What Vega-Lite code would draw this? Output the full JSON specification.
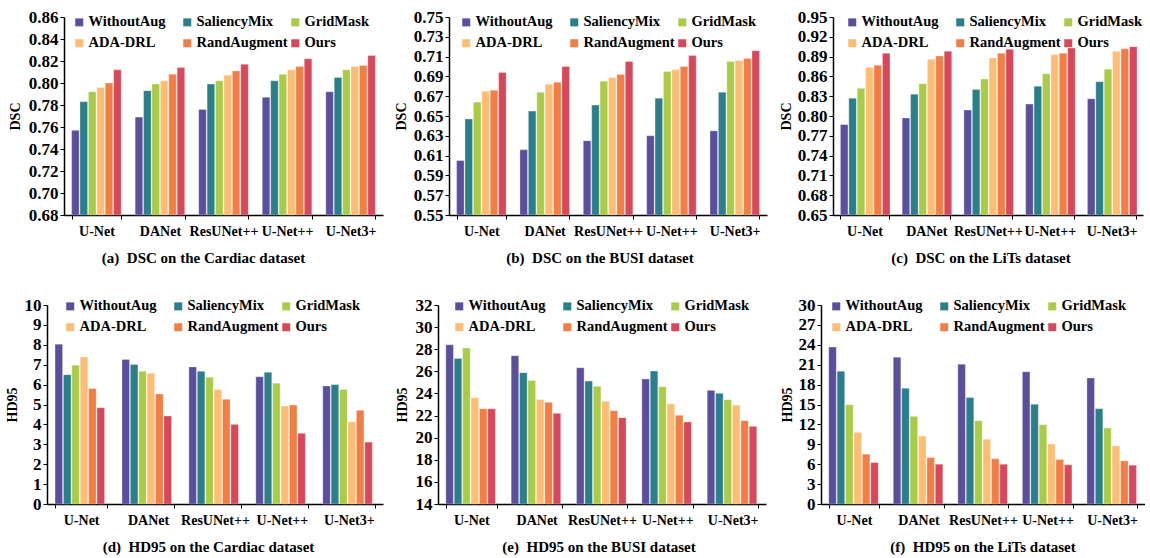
{
  "$schema": "https://vega.github.io/schema/vega-lite/v6.json",
  "padding": {"left": 5, "top": 8, "right": 0, "bottom": 0},
  "background": "white",
  "datasets": {
    "a": [
      {"model":"U-Net","method":"WithoutAug","value":0.757},{"model":"U-Net","method":"SaliencyMix","value":0.783},{"model":"U-Net","method":"GridMask","value":0.792},{"model":"U-Net","method":"ADA-DRL","value":0.796},{"model":"U-Net","method":"RandAugment","value":0.800},{"model":"U-Net","method":"Ours","value":0.812},
      {"model":"DANet","method":"WithoutAug","value":0.769},{"model":"DANet","method":"SaliencyMix","value":0.793},{"model":"DANet","method":"GridMask","value":0.799},{"model":"DANet","method":"ADA-DRL","value":0.802},{"model":"DANet","method":"RandAugment","value":0.808},{"model":"DANet","method":"Ours","value":0.814},
      {"model":"ResUNet++","method":"WithoutAug","value":0.776},{"model":"ResUNet++","method":"SaliencyMix","value":0.799},{"model":"ResUNet++","method":"GridMask","value":0.802},{"model":"ResUNet++","method":"ADA-DRL","value":0.807},{"model":"ResUNet++","method":"RandAugment","value":0.811},{"model":"ResUNet++","method":"Ours","value":0.817},
      {"model":"U-Net++","method":"WithoutAug","value":0.787},{"model":"U-Net++","method":"SaliencyMix","value":0.802},{"model":"U-Net++","method":"GridMask","value":0.808},{"model":"U-Net++","method":"ADA-DRL","value":0.812},{"model":"U-Net++","method":"RandAugment","value":0.815},{"model":"U-Net++","method":"Ours","value":0.822},
      {"model":"U-Net3+","method":"WithoutAug","value":0.792},{"model":"U-Net3+","method":"SaliencyMix","value":0.805},{"model":"U-Net3+","method":"GridMask","value":0.812},{"model":"U-Net3+","method":"ADA-DRL","value":0.815},{"model":"U-Net3+","method":"RandAugment","value":0.816},{"model":"U-Net3+","method":"Ours","value":0.825}
    ],
    "b": [
      {"model":"U-Net","method":"WithoutAug","value":0.605},{"model":"U-Net","method":"SaliencyMix","value":0.647},{"model":"U-Net","method":"GridMask","value":0.664},{"model":"U-Net","method":"ADA-DRL","value":0.675},{"model":"U-Net","method":"RandAugment","value":0.676},{"model":"U-Net","method":"Ours","value":0.694},
      {"model":"DANet","method":"WithoutAug","value":0.616},{"model":"DANet","method":"SaliencyMix","value":0.655},{"model":"DANet","method":"GridMask","value":0.674},{"model":"DANet","method":"ADA-DRL","value":0.682},{"model":"DANet","method":"RandAugment","value":0.684},{"model":"DANet","method":"Ours","value":0.700},
      {"model":"ResUNet++","method":"WithoutAug","value":0.625},{"model":"ResUNet++","method":"SaliencyMix","value":0.661},{"model":"ResUNet++","method":"GridMask","value":0.685},{"model":"ResUNet++","method":"ADA-DRL","value":0.689},{"model":"ResUNet++","method":"RandAugment","value":0.692},{"model":"ResUNet++","method":"Ours","value":0.705},
      {"model":"U-Net++","method":"WithoutAug","value":0.630},{"model":"U-Net++","method":"SaliencyMix","value":0.668},{"model":"U-Net++","method":"GridMask","value":0.695},{"model":"U-Net++","method":"ADA-DRL","value":0.697},{"model":"U-Net++","method":"RandAugment","value":0.700},{"model":"U-Net++","method":"Ours","value":0.711},
      {"model":"U-Net3+","method":"WithoutAug","value":0.635},{"model":"U-Net3+","method":"SaliencyMix","value":0.674},{"model":"U-Net3+","method":"GridMask","value":0.705},{"model":"U-Net3+","method":"ADA-DRL","value":0.706},{"model":"U-Net3+","method":"RandAugment","value":0.708},{"model":"U-Net3+","method":"Ours","value":0.716}
    ],
    "c": [
      {"model":"U-Net","method":"WithoutAug","value":0.787},{"model":"U-Net","method":"SaliencyMix","value":0.827},{"model":"U-Net","method":"GridMask","value":0.842},{"model":"U-Net","method":"ADA-DRL","value":0.874},{"model":"U-Net","method":"RandAugment","value":0.877},{"model":"U-Net","method":"Ours","value":0.895},
      {"model":"DANet","method":"WithoutAug","value":0.797},{"model":"DANet","method":"SaliencyMix","value":0.833},{"model":"DANet","method":"GridMask","value":0.849},{"model":"DANet","method":"ADA-DRL","value":0.886},{"model":"DANet","method":"RandAugment","value":0.891},{"model":"DANet","method":"Ours","value":0.898},
      {"model":"ResUNet++","method":"WithoutAug","value":0.809},{"model":"ResUNet++","method":"SaliencyMix","value":0.840},{"model":"ResUNet++","method":"GridMask","value":0.856},{"model":"ResUNet++","method":"ADA-DRL","value":0.888},{"model":"ResUNet++","method":"RandAugment","value":0.895},{"model":"ResUNet++","method":"Ours","value":0.901},
      {"model":"U-Net++","method":"WithoutAug","value":0.818},{"model":"U-Net++","method":"SaliencyMix","value":0.845},{"model":"U-Net++","method":"GridMask","value":0.864},{"model":"U-Net++","method":"ADA-DRL","value":0.893},{"model":"U-Net++","method":"RandAugment","value":0.895},{"model":"U-Net++","method":"Ours","value":0.903},
      {"model":"U-Net3+","method":"WithoutAug","value":0.826},{"model":"U-Net3+","method":"SaliencyMix","value":0.852},{"model":"U-Net3+","method":"GridMask","value":0.871},{"model":"U-Net3+","method":"ADA-DRL","value":0.898},{"model":"U-Net3+","method":"RandAugment","value":0.902},{"model":"U-Net3+","method":"Ours","value":0.905}
    ],
    "d": [
      {"model":"U-Net","method":"WithoutAug","value":8.03},{"model":"U-Net","method":"SaliencyMix","value":6.50},{"model":"U-Net","method":"GridMask","value":6.97},{"model":"U-Net","method":"ADA-DRL","value":7.39},{"model":"U-Net","method":"RandAugment","value":5.80},{"model":"U-Net","method":"Ours","value":4.84},
      {"model":"DANet","method":"WithoutAug","value":7.26},{"model":"DANet","method":"SaliencyMix","value":7.01},{"model":"DANet","method":"GridMask","value":6.67},{"model":"DANet","method":"ADA-DRL","value":6.57},{"model":"DANet","method":"RandAugment","value":5.53},{"model":"DANet","method":"Ours","value":4.42},
      {"model":"ResUNet++","method":"WithoutAug","value":6.89},{"model":"ResUNet++","method":"SaliencyMix","value":6.67},{"model":"ResUNet++","method":"GridMask","value":6.37},{"model":"ResUNet++","method":"ADA-DRL","value":5.76},{"model":"ResUNet++","method":"RandAugment","value":5.26},{"model":"ResUNet++","method":"Ours","value":4.00},
      {"model":"U-Net++","method":"WithoutAug","value":6.40},{"model":"U-Net++","method":"SaliencyMix","value":6.62},{"model":"U-Net++","method":"GridMask","value":6.07},{"model":"U-Net++","method":"ADA-DRL","value":4.92},{"model":"U-Net++","method":"RandAugment","value":4.97},{"model":"U-Net++","method":"Ours","value":3.55},
      {"model":"U-Net3+","method":"WithoutAug","value":5.93},{"model":"U-Net3+","method":"SaliencyMix","value":6.00},{"model":"U-Net3+","method":"GridMask","value":5.76},{"model":"U-Net3+","method":"ADA-DRL","value":4.12},{"model":"U-Net3+","method":"RandAugment","value":4.71},{"model":"U-Net3+","method":"Ours","value":3.11}
    ],
    "e": [
      {"model":"U-Net","method":"WithoutAug","value":28.41},{"model":"U-Net","method":"SaliencyMix","value":27.17},{"model":"U-Net","method":"GridMask","value":28.11},{"model":"U-Net","method":"ADA-DRL","value":23.62},{"model":"U-Net","method":"RandAugment","value":22.62},{"model":"U-Net","method":"Ours","value":22.62},
      {"model":"DANet","method":"WithoutAug","value":27.42},{"model":"DANet","method":"SaliencyMix","value":25.88},{"model":"DANet","method":"GridMask","value":25.18},{"model":"DANet","method":"ADA-DRL","value":23.44},{"model":"DANet","method":"RandAugment","value":23.20},{"model":"DANet","method":"Ours","value":22.20},
      {"model":"ResUNet++","method":"WithoutAug","value":26.33},{"model":"ResUNet++","method":"SaliencyMix","value":25.12},{"model":"ResUNet++","method":"GridMask","value":24.64},{"model":"ResUNet++","method":"ADA-DRL","value":23.29},{"model":"ResUNet++","method":"RandAugment","value":22.44},{"model":"ResUNet++","method":"Ours","value":21.81},
      {"model":"U-Net++","method":"WithoutAug","value":25.31},{"model":"U-Net++","method":"SaliencyMix","value":26.03},{"model":"U-Net++","method":"GridMask","value":24.61},{"model":"U-Net++","method":"ADA-DRL","value":23.07},{"model":"U-Net++","method":"RandAugment","value":22.02},{"model":"U-Net++","method":"Ours","value":21.42},
      {"model":"U-Net3+","method":"WithoutAug","value":24.28},{"model":"U-Net3+","method":"SaliencyMix","value":24.01},{"model":"U-Net3+","method":"GridMask","value":23.44},{"model":"U-Net3+","method":"ADA-DRL","value":22.95},{"model":"U-Net3+","method":"RandAugment","value":21.54},{"model":"U-Net3+","method":"Ours","value":21.02}
    ],
    "f": [
      {"model":"U-Net","method":"WithoutAug","value":23.65},{"model":"U-Net","method":"SaliencyMix","value":20.02},{"model":"U-Net","method":"GridMask","value":14.98},{"model":"U-Net","method":"ADA-DRL","value":10.79},{"model":"U-Net","method":"RandAugment","value":7.51},{"model":"U-Net","method":"Ours","value":6.25},
      {"model":"DANet","method":"WithoutAug","value":22.14},{"model":"DANet","method":"SaliencyMix","value":17.45},{"model":"DANet","method":"GridMask","value":13.21},{"model":"DANet","method":"ADA-DRL","value":10.24},{"model":"DANet","method":"RandAugment","value":7.01},{"model":"DANet","method":"Ours","value":6.00},
      {"model":"ResUNet++","method":"WithoutAug","value":21.08},{"model":"ResUNet++","method":"SaliencyMix","value":16.04},{"model":"ResUNet++","method":"GridMask","value":12.56},{"model":"ResUNet++","method":"ADA-DRL","value":9.78},{"model":"ResUNet++","method":"RandAugment","value":6.81},{"model":"ResUNet++","method":"Ours","value":6.00},
      {"model":"U-Net++","method":"WithoutAug","value":19.92},{"model":"U-Net++","method":"SaliencyMix","value":15.03},{"model":"U-Net++","method":"GridMask","value":11.95},{"model":"U-Net++","method":"ADA-DRL","value":9.03},{"model":"U-Net++","method":"RandAugment","value":6.71},{"model":"U-Net++","method":"Ours","value":5.90},
      {"model":"U-Net3+","method":"WithoutAug","value":19.01},{"model":"U-Net3+","method":"SaliencyMix","value":14.37},{"model":"U-Net3+","method":"GridMask","value":11.45},{"model":"U-Net3+","method":"ADA-DRL","value":8.77},{"model":"U-Net3+","method":"RandAugment","value":6.50},{"model":"U-Net3+","method":"Ours","value":5.85}
    ]
  },
  "resolve": {"legend": {"color": "independent"}, "scale": {"y": "independent", "x": "independent"}},
  "spacing": 30,
  "vconcat": [
    {
      "resolve": {"legend": {"color": "independent"}, "scale": {"y": "independent", "x": "independent"}},
      "bounds": "flush",
      "spacing": 66,
      "hconcat": [
        {
          "data": {"name": "a"}, "width": 319, "height": 198,
          "title": {"text": "(a)\u00a0\u00a0DSC on the Cardiac dataset", "dx": -20},
          "mark": {"type": "bar", "stroke": "white", "strokeWidth": 0.5, "strokeOpacity": 0.6},
          "encoding": {
            "x": {"field": "model", "type": "nominal", "sort": ["U-Net","DANet","ResUNet++","U-Net++","U-Net3+"], "scale": {"paddingInner": 0.22, "paddingOuter": 0.12}, "axis": {"title": null}},
            "xOffset": {"field": "method", "type": "nominal", "sort": ["WithoutAug","SaliencyMix","GridMask","ADA-DRL","RandAugment","Ours"], "scale": {"paddingInner": 0.1}},
            "y": {"field": "value", "type": "quantitative", "scale": {"domain": [0.68, 0.86], "nice": false, "zero": false, "clamp": true}, "axis": {"title": "DSC", "values": [0.68,0.70,0.72,0.74,0.76,0.78,0.80,0.82,0.84,0.86], "format": ".2f", "minExtent": 38, "maxExtent": 38}},
            "color": {"field": "method", "type": "nominal", "sort": ["WithoutAug","SaliencyMix","GridMask","ADA-DRL","RandAugment","Ours"], "scale": {"domain": ["WithoutAug","SaliencyMix","GridMask","ADA-DRL","RandAugment","Ours"], "range": ["#5B4F9D","#2A7F8B","#A9CB47","#FDBD74","#F27E45","#D8485B"]}, "legend": {"legendX": 8, "legendY": -2}}
          }
        },
        {
          "data": {"name": "b"}, "width": 318, "height": 198,
          "title": {"text": "(b)\u00a0\u00a0DSC on the BUSI dataset", "dx": -8},
          "mark": {"type": "bar", "stroke": "white", "strokeWidth": 0.5, "strokeOpacity": 0.6},
          "encoding": {
            "x": {"field": "model", "type": "nominal", "sort": ["U-Net","DANet","ResUNet++","U-Net++","U-Net3+"], "scale": {"paddingInner": 0.22, "paddingOuter": 0.12}, "axis": {"title": null}},
            "xOffset": {"field": "method", "type": "nominal", "sort": ["WithoutAug","SaliencyMix","GridMask","ADA-DRL","RandAugment","Ours"], "scale": {"paddingInner": 0.1}},
            "y": {"field": "value", "type": "quantitative", "scale": {"domain": [0.55, 0.75], "nice": false, "zero": false, "clamp": true}, "axis": {"title": "DSC", "values": [0.55,0.57,0.59,0.61,0.63,0.65,0.67,0.69,0.71,0.73,0.75], "format": ".2f", "minExtent": 37, "maxExtent": 37}},
            "color": {"field": "method", "type": "nominal", "sort": ["WithoutAug","SaliencyMix","GridMask","ADA-DRL","RandAugment","Ours"], "scale": {"domain": ["WithoutAug","SaliencyMix","GridMask","ADA-DRL","RandAugment","Ours"], "range": ["#5B4F9D","#2A7F8B","#A9CB47","#FDBD74","#F27E45","#D8485B"]}, "legend": {"legendX": 10, "legendY": -2}}
          }
        },
        {
          "data": {"name": "c"}, "width": 310, "height": 198,
          "title": {"text": "(c)\u00a0\u00a0DSC on the LiTs dataset", "dx": -7},
          "mark": {"type": "bar", "stroke": "white", "strokeWidth": 0.5, "strokeOpacity": 0.6},
          "encoding": {
            "x": {"field": "model", "type": "nominal", "sort": ["U-Net","DANet","ResUNet++","U-Net++","U-Net3+"], "scale": {"paddingInner": 0.22, "paddingOuter": 0.12}, "axis": {"title": null}},
            "xOffset": {"field": "method", "type": "nominal", "sort": ["WithoutAug","SaliencyMix","GridMask","ADA-DRL","RandAugment","Ours"], "scale": {"paddingInner": 0.1}},
            "y": {"field": "value", "type": "quantitative", "scale": {"domain": [0.65, 0.95], "nice": false, "zero": false, "clamp": true}, "axis": {"title": "DSC", "values": [0.65,0.68,0.71,0.74,0.77,0.80,0.83,0.86,0.89,0.92,0.95], "format": ".2f", "minExtent": 36, "maxExtent": 36}},
            "color": {"field": "method", "type": "nominal", "sort": ["WithoutAug","SaliencyMix","GridMask","ADA-DRL","RandAugment","Ours"], "scale": {"domain": ["WithoutAug","SaliencyMix","GridMask","ADA-DRL","RandAugment","Ours"], "range": ["#5B4F9D","#2A7F8B","#A9CB47","#FDBD74","#F27E45","#D8485B"]}, "legend": {"legendX": 12, "legendY": -2}}
          }
        }
      ]
    },
    {
      "resolve": {"legend": {"color": "independent"}, "scale": {"y": "independent", "x": "independent"}},
      "bounds": "flush",
      "spacing": 55,
      "hconcat": [
        {
          "data": {"name": "d"}, "width": 319, "height": 199,
          "title": {"text": "(d)\u00a0\u00a0HD95 on the Cardiac dataset", "dx": -15},
          "mark": {"type": "bar", "stroke": "white", "strokeWidth": 0.5, "strokeOpacity": 0.6},
          "encoding": {
            "x": {"field": "model", "type": "nominal", "sort": ["U-Net","DANet","ResUNet++","U-Net++","U-Net3+"], "scale": {"range": [-17, 319], "paddingInner": 0.22, "paddingOuter": 0.12}, "axis": {"title": null}},
            "xOffset": {"field": "method", "type": "nominal", "sort": ["WithoutAug","SaliencyMix","GridMask","ADA-DRL","RandAugment","Ours"], "scale": {"paddingInner": 0.1}},
            "y": {"field": "value", "type": "quantitative", "scale": {"domain": [0, 10], "nice": false}, "axis": {"title": "HD95", "offset": 17, "values": [0,1,2,3,4,5,6,7,8,9,10], "minExtent": 24, "maxExtent": 24}},
            "color": {"field": "method", "type": "nominal", "sort": ["WithoutAug","SaliencyMix","GridMask","ADA-DRL","RandAugment","Ours"], "scale": {"domain": ["WithoutAug","SaliencyMix","GridMask","ADA-DRL","RandAugment","Ours"], "range": ["#5B4F9D","#2A7F8B","#A9CB47","#FDBD74","#F27E45","#D8485B"]}, "legend": {"legendX": -1, "legendY": -6}}
          }
        },
        {
          "data": {"name": "e"}, "width": 328, "height": 199,
          "title": {"text": "(e)\u00a0\u00a0HD95 on the BUSI dataset", "dx": -3},
          "mark": {"type": "bar", "stroke": "white", "strokeWidth": 0.5, "strokeOpacity": 0.6},
          "encoding": {
            "x": {"field": "model", "type": "nominal", "sort": ["U-Net","DANet","ResUNet++","U-Net++","U-Net3+"], "scale": {"paddingInner": 0.22, "paddingOuter": 0.12}, "axis": {"title": null}},
            "xOffset": {"field": "method", "type": "nominal", "sort": ["WithoutAug","SaliencyMix","GridMask","ADA-DRL","RandAugment","Ours"], "scale": {"paddingInner": 0.1}},
            "y": {"field": "value", "type": "quantitative", "scale": {"domain": [14, 32], "nice": false, "zero": false, "clamp": true}, "axis": {"title": "HD95", "values": [14,16,18,20,22,24,26,28,30,32], "minExtent": 25, "maxExtent": 25}},
            "color": {"field": "method", "type": "nominal", "sort": ["WithoutAug","SaliencyMix","GridMask","ADA-DRL","RandAugment","Ours"], "scale": {"domain": ["WithoutAug","SaliencyMix","GridMask","ADA-DRL","RandAugment","Ours"], "range": ["#5B4F9D","#2A7F8B","#A9CB47","#FDBD74","#F27E45","#D8485B"]}, "legend": {"legendX": 14, "legendY": -6}}
          }
        },
        {
          "data": {"name": "f"}, "width": 324, "height": 199,
          "title": {"text": "(f)\u00a0\u00a0HD95 on the LiTs dataset", "dx": 0},
          "mark": {"type": "bar", "stroke": "white", "strokeWidth": 0.5, "strokeOpacity": 0.6},
          "encoding": {
            "x": {"field": "model", "type": "nominal", "sort": ["U-Net","DANet","ResUNet++","U-Net++","U-Net3+"], "scale": {"paddingInner": 0.22, "paddingOuter": 0.12}, "axis": {"title": null}},
            "xOffset": {"field": "method", "type": "nominal", "sort": ["WithoutAug","SaliencyMix","GridMask","ADA-DRL","RandAugment","Ours"], "scale": {"paddingInner": 0.1}},
            "y": {"field": "value", "type": "quantitative", "scale": {"domain": [0, 30], "nice": false}, "axis": {"title": "HD95", "values": [0,3,6,9,12,15,18,21,24,27,30], "minExtent": 23, "maxExtent": 23}},
            "color": {"field": "method", "type": "nominal", "sort": ["WithoutAug","SaliencyMix","GridMask","ADA-DRL","RandAugment","Ours"], "scale": {"domain": ["WithoutAug","SaliencyMix","GridMask","ADA-DRL","RandAugment","Ours"], "range": ["#5B4F9D","#2A7F8B","#A9CB47","#FDBD74","#F27E45","#D8485B"]}, "legend": {"legendX": 8, "legendY": -6}}
          }
        }
      ]
    }
  ],
  "config": {
    "font": "Liberation Serif",
    "view": {"stroke": null},
    "axis": {"grid": false, "domainColor": "#000000", "domainWidth": 1.2, "tickColor": "#000000", "labelColor": "#000000", "titleColor": "#000000", "labelFont": "Liberation Serif", "titleFont": "Liberation Serif", "labelFontWeight": "bold", "titleFontWeight": "bold"},
    "axisX": {"labelAngle": 0, "tickBand": "extent", "tickSize": 4, "labelPadding": 5, "labelFontSize": 14, "domainWidth": 1.5},
    "axisY": {"tickSize": 4, "labelPadding": 2, "labelFontSize": 17, "titleFontSize": 14, "titlePadding": 4, "domainWidth": 1.5},
    "legend": {"orient": "none", "direction": "horizontal", "columns": 3, "title": null, "symbolType": "square", "symbolSize": 64, "symbolStrokeWidth": 0, "labelFont": "Liberation Serif", "labelFontWeight": "bold", "labelFontSize": 14.5, "labelColor": "#000000", "labelOffset": 2, "columnPadding": 0, "rowPadding": 6, "gridAlign": "all", "padding": 0},
    "title": {"orient": "bottom", "anchor": "middle", "frame": "group", "font": "Liberation Serif", "fontWeight": "bold", "fontSize": 15, "color": "#000000", "offset": 13}
  }
}
